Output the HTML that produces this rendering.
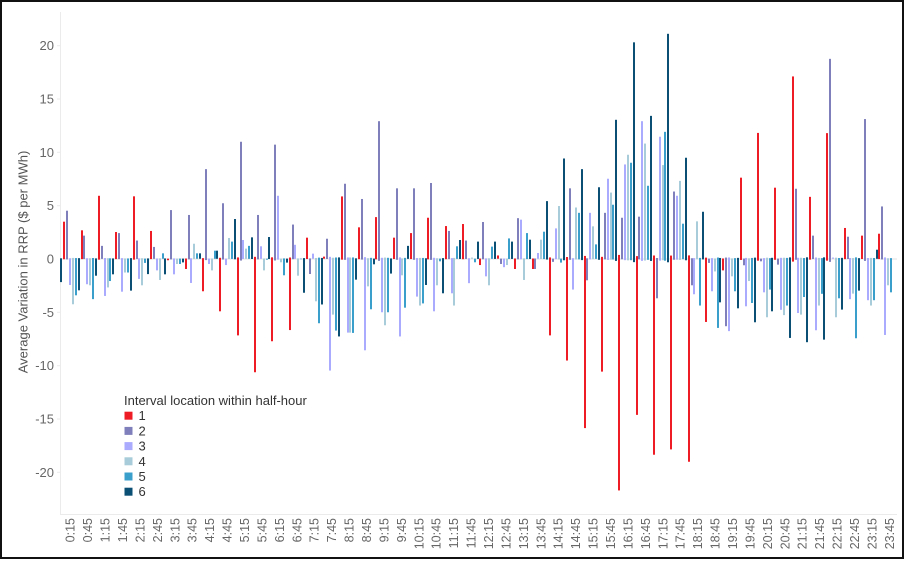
<!DOCTYPE html>
<html>
<head>
<meta charset="utf-8">
<style>
  html, body { margin:0; padding:0; background:#fff; }
  body { width:909px; height:561px; position:relative; overflow:hidden; font-family:"Liberation Sans", Arial, sans-serif; }
  #frame { position:absolute; left:0; top:0; width:904px; height:559px; box-sizing:border-box; border:2.5px solid #111; }
  svg { position:absolute; left:0; top:0; }
  #bars { position:absolute; left:60px; top:248.333px; width:837px; height:10.667px; display:flex; }
  #bars i { flex:none; display:block; width:2.905px; height:10.667px; transform-origin:50% 100%; transform:scaleY(var(--v));
            background:linear-gradient(var(--c),var(--c)) center / 2.2px 100% no-repeat; }
  #bars i:nth-child(6n+1) { --c:#0b4f75; }
  #bars i:nth-child(6n+2) { --c:#ee1c24; }
  #bars i:nth-child(6n+3) { --c:#7f80bb; }
  #bars i:nth-child(6n+4) { --c:#aaaaff; }
  #bars i:nth-child(6n+5) { --c:#a8ccd9; }
  #bars i:nth-child(6n)   { --c:#3b9fcc; }
</style>
</head>
<body>
<svg width="909" height="561" viewBox="0 0 909 561" xmlns="http://www.w3.org/2000/svg">
  <g stroke="#ebebeb" stroke-width="1" fill="none">
    <line x1="60.5" y1="12" x2="60.5" y2="514"/>
    <line x1="60" y1="514.5" x2="897" y2="514.5"/>
    <line x1="60" y1="259" x2="897" y2="259" stroke="#e2e2e2"/>
    <line x1="57" y1="45.7" x2="60" y2="45.7"/>
    <line x1="57" y1="99" x2="60" y2="99"/>
    <line x1="57" y1="152.3" x2="60" y2="152.3"/>
    <line x1="57" y1="205.7" x2="60" y2="205.7"/>
    <line x1="57" y1="312.3" x2="60" y2="312.3"/>
    <line x1="57" y1="365.7" x2="60" y2="365.7"/>
    <line x1="57" y1="419" x2="60" y2="419"/>
    <line x1="57" y1="472.3" x2="60" y2="472.3"/>
  </g>
  <g font-family="Liberation Sans, Arial, sans-serif" font-size="13" fill="#666" text-anchor="end">
    <text x="54" y="50.2">20</text>
    <text x="54" y="103.5">15</text>
    <text x="54" y="156.8">10</text>
    <text x="54" y="210.2">5</text>
    <text x="54" y="263.5">0</text>
    <text x="54" y="316.8">-5</text>
    <text x="54" y="370.2">-10</text>
    <text x="54" y="423.5">-15</text>
    <text x="54" y="476.8">-20</text>
  </g>
  <text transform="translate(27.5,262) rotate(-90)" text-anchor="middle" font-family="Liberation Sans, Arial, sans-serif" font-size="13" fill="#555">Average Variation in RRP ($ per MWh)</text>
  <g font-family="Liberation Sans, Arial, sans-serif" font-size="12.5" fill="#666" text-anchor="end">
    <text transform="translate(74.67,518) rotate(-90)">0:15</text>
    <text transform="translate(92.10,518) rotate(-90)">0:45</text>
    <text transform="translate(109.53,518) rotate(-90)">1:15</text>
    <text transform="translate(126.96,518) rotate(-90)">1:45</text>
    <text transform="translate(144.39,518) rotate(-90)">2:15</text>
    <text transform="translate(161.82,518) rotate(-90)">2:45</text>
    <text transform="translate(179.25,518) rotate(-90)">3:15</text>
    <text transform="translate(196.68,518) rotate(-90)">3:45</text>
    <text transform="translate(214.11,518) rotate(-90)">4:15</text>
    <text transform="translate(231.54,518) rotate(-90)">4:45</text>
    <text transform="translate(248.97,518) rotate(-90)">5:15</text>
    <text transform="translate(266.40,518) rotate(-90)">5:45</text>
    <text transform="translate(283.83,518) rotate(-90)">6:15</text>
    <text transform="translate(301.26,518) rotate(-90)">6:45</text>
    <text transform="translate(318.69,518) rotate(-90)">7:15</text>
    <text transform="translate(336.12,518) rotate(-90)">7:45</text>
    <text transform="translate(353.55,518) rotate(-90)">8:15</text>
    <text transform="translate(370.98,518) rotate(-90)">8:45</text>
    <text transform="translate(388.41,518) rotate(-90)">9:15</text>
    <text transform="translate(405.84,518) rotate(-90)">9:45</text>
    <text transform="translate(423.27,518) rotate(-90)">10:15</text>
    <text transform="translate(440.70,518) rotate(-90)">10:45</text>
    <text transform="translate(458.13,518) rotate(-90)">11:15</text>
    <text transform="translate(475.56,518) rotate(-90)">11:45</text>
    <text transform="translate(492.99,518) rotate(-90)">12:15</text>
    <text transform="translate(510.42,518) rotate(-90)">12:45</text>
    <text transform="translate(527.85,518) rotate(-90)">13:15</text>
    <text transform="translate(545.28,518) rotate(-90)">13:45</text>
    <text transform="translate(562.71,518) rotate(-90)">14:15</text>
    <text transform="translate(580.14,518) rotate(-90)">14:45</text>
    <text transform="translate(597.57,518) rotate(-90)">15:15</text>
    <text transform="translate(615.00,518) rotate(-90)">15:45</text>
    <text transform="translate(632.43,518) rotate(-90)">16:15</text>
    <text transform="translate(649.86,518) rotate(-90)">16:45</text>
    <text transform="translate(667.29,518) rotate(-90)">17:15</text>
    <text transform="translate(684.72,518) rotate(-90)">17:45</text>
    <text transform="translate(702.15,518) rotate(-90)">18:15</text>
    <text transform="translate(719.58,518) rotate(-90)">18:45</text>
    <text transform="translate(737.01,518) rotate(-90)">19:15</text>
    <text transform="translate(754.44,518) rotate(-90)">19:45</text>
    <text transform="translate(771.87,518) rotate(-90)">20:15</text>
    <text transform="translate(789.30,518) rotate(-90)">20:45</text>
    <text transform="translate(806.73,518) rotate(-90)">21:15</text>
    <text transform="translate(824.16,518) rotate(-90)">21:45</text>
    <text transform="translate(841.59,518) rotate(-90)">22:15</text>
    <text transform="translate(859.02,518) rotate(-90)">22:45</text>
    <text transform="translate(876.45,518) rotate(-90)">23:15</text>
    <text transform="translate(893.88,518) rotate(-90)">23:45</text>
  </g>
  <g font-family="Liberation Sans, Arial, sans-serif" font-size="13" fill="#333">
    <text x="124" y="405">Interval location within half-hour</text>
    <rect x="124.5" y="411.7" width="8" height="8" fill="#ee1c24"/>
    <rect x="124.5" y="426.9" width="8" height="8" fill="#7f80bb"/>
    <rect x="124.5" y="442.1" width="8" height="8" fill="#aaaaff"/>
    <rect x="124.5" y="457.3" width="8" height="8" fill="#a8ccd9"/>
    <rect x="124.5" y="472.5" width="8" height="8" fill="#3b9fcc"/>
    <rect x="124.5" y="487.7" width="8" height="8" fill="#0b4f75"/>
    <text x="138.5" y="420.2">1</text>
    <text x="138.5" y="435.4">2</text>
    <text x="138.5" y="450.6">3</text>
    <text x="138.5" y="465.8">4</text>
    <text x="138.5" y="481">5</text>
    <text x="138.5" y="496.2">6</text>
  </g>
</svg>
<div id="bars">
<i style="--v:-2.2"></i><i style="--v:3.47"></i><i style="--v:4.5"></i><i style="--v:-2.47"></i><i style="--v:-4.28"></i><i style="--v:-3.44"></i>
<i style="--v:-2.97"></i><i style="--v:2.66"></i><i style="--v:2.16"></i><i style="--v:-2.4"></i><i style="--v:-2.5"></i><i style="--v:-3.8"></i>
<i style="--v:-1.6"></i><i style="--v:5.9"></i><i style="--v:1.2"></i><i style="--v:-3.5"></i><i style="--v:-2.7"></i><i style="--v:-2.1"></i>
<i style="--v:-1.47"></i><i style="--v:2.5"></i><i style="--v:2.4"></i><i style="--v:-3.1"></i><i style="--v:-1.3"></i><i style="--v:-1.3"></i>
<i style="--v:-3.0"></i><i style="--v:5.85"></i><i style="--v:1.7"></i><i style="--v:-1.9"></i><i style="--v:-2.5"></i><i style="--v:-0.4"></i>
<i style="--v:-1.45"></i><i style="--v:2.6"></i><i style="--v:1.1"></i><i style="--v:-1.1"></i><i style="--v:-2.0"></i><i style="--v:0.5"></i>
<i style="--v:-1.47"></i><i style="--v:-0.15"></i><i style="--v:4.56"></i><i style="--v:-1.47"></i><i style="--v:-0.5"></i><i style="--v:-0.5"></i>
<i style="--v:-0.35"></i><i style="--v:-0.97"></i><i style="--v:4.1"></i><i style="--v:-2.28"></i><i style="--v:1.4"></i><i style="--v:0.5"></i>
<i style="--v:0.5"></i><i style="--v:-3.06"></i><i style="--v:8.4"></i><i style="--v:-0.5"></i><i style="--v:-1.1"></i><i style="--v:0.75"></i>
<i style="--v:0.75"></i><i style="--v:-4.94"></i><i style="--v:5.2"></i><i style="--v:-0.6"></i><i style="--v:1.94"></i><i style="--v:1.6"></i>
<i style="--v:3.72"></i><i style="--v:-7.2"></i><i style="--v:10.97"></i><i style="--v:1.75"></i><i style="--v:0.94"></i><i style="--v:1.2"></i>
<i style="--v:2.0"></i><i style="--v:-10.66"></i><i style="--v:4.1"></i><i style="--v:1.16"></i><i style="--v:-1.1"></i><i style="--v:-0.1"></i>
<i style="--v:2.03"></i><i style="--v:-7.75"></i><i style="--v:10.7"></i><i style="--v:5.9"></i><i style="--v:-0.34"></i><i style="--v:-1.56"></i>
<i style="--v:-0.37"></i><i style="--v:-6.7"></i><i style="--v:3.2"></i><i style="--v:1.3"></i><i style="--v:-1.6"></i><i style="--v:-0.06"></i>
<i style="--v:-3.2"></i><i style="--v:1.97"></i><i style="--v:-1.44"></i><i style="--v:0.47"></i><i style="--v:-4.0"></i><i style="--v:-6.06"></i>
<i style="--v:-4.3"></i><i style="--v:0.19"></i><i style="--v:1.87"></i><i style="--v:-10.5"></i><i style="--v:-5.25"></i><i style="--v:-6.75"></i>
<i style="--v:-7.3"></i><i style="--v:5.84"></i><i style="--v:7.03"></i><i style="--v:-6.94"></i><i style="--v:-6.94"></i><i style="--v:-6.97"></i>
<i style="--v:-1.97"></i><i style="--v:2.94"></i><i style="--v:5.6"></i><i style="--v:-8.6"></i><i style="--v:-2.6"></i><i style="--v:-4.75"></i>
<i style="--v:-0.53"></i><i style="--v:3.9"></i><i style="--v:12.9"></i><i style="--v:-5.03"></i><i style="--v:-6.25"></i><i style="--v:-5.03"></i>
<i style="--v:-1.4"></i><i style="--v:1.97"></i><i style="--v:6.6"></i><i style="--v:-7.3"></i><i style="--v:-1.56"></i><i style="--v:-4.6"></i>
<i style="--v:1.2"></i><i style="--v:2.4"></i><i style="--v:6.6"></i><i style="--v:-3.56"></i><i style="--v:-4.4"></i><i style="--v:-4.2"></i>
<i style="--v:-2.47"></i><i style="--v:3.84"></i><i style="--v:7.1"></i><i style="--v:-4.94"></i><i style="--v:-2.5"></i><i style="--v:-0.25"></i>
<i style="--v:-3.25"></i><i style="--v:3.06"></i><i style="--v:2.6"></i><i style="--v:-3.25"></i><i style="--v:-4.4"></i><i style="--v:1.16"></i>
<i style="--v:1.75"></i><i style="--v:3.25"></i><i style="--v:1.7"></i><i style="--v:-2.3"></i><i style="--v:0.1"></i><i style="--v:-0.34"></i>
<i style="--v:1.6"></i><i style="--v:-0.6"></i><i style="--v:3.44"></i><i style="--v:-1.66"></i><i style="--v:-2.5"></i><i style="--v:1.13"></i>
<i style="--v:1.6"></i><i style="--v:0.3"></i><i style="--v:-0.5"></i><i style="--v:-0.8"></i><i style="--v:-0.6"></i><i style="--v:1.9"></i>
<i style="--v:1.6"></i><i style="--v:-0.97"></i><i style="--v:3.8"></i><i style="--v:3.66"></i><i style="--v:-2.0"></i><i style="--v:2.4"></i>
<i style="--v:1.78"></i><i style="--v:-0.97"></i><i style="--v:-0.97"></i><i style="--v:0.53"></i><i style="--v:1.78"></i><i style="--v:2.53"></i>
<i style="--v:5.4"></i><i style="--v:-7.2"></i><i style="--v:-0.3"></i><i style="--v:2.84"></i><i style="--v:4.94"></i><i style="--v:-0.37"></i>
<i style="--v:9.4"></i><i style="--v:-9.56"></i><i style="--v:6.6"></i><i style="--v:-2.9"></i><i style="--v:4.8"></i><i style="--v:4.3"></i>
<i style="--v:8.4"></i><i style="--v:-15.9"></i><i style="--v:-2.03"></i><i style="--v:4.3"></i><i style="--v:3.03"></i><i style="--v:1.34"></i>
<i style="--v:6.7"></i><i style="--v:-10.6"></i><i style="--v:4.3"></i><i style="--v:7.5"></i><i style="--v:6.2"></i><i style="--v:5.06"></i>
<i style="--v:13.03"></i><i style="--v:-21.75"></i><i style="--v:3.84"></i><i style="--v:8.84"></i><i style="--v:9.75"></i><i style="--v:9.0"></i>
<i style="--v:20.3"></i><i style="--v:-14.66"></i><i style="--v:3.94"></i><i style="--v:12.9"></i><i style="--v:10.8"></i><i style="--v:6.84"></i>
<i style="--v:13.4"></i><i style="--v:-18.4"></i><i style="--v:-3.72"></i><i style="--v:11.44"></i><i style="--v:8.78"></i><i style="--v:11.9"></i>
<i style="--v:21.1"></i><i style="--v:-17.9"></i><i style="--v:6.3"></i><i style="--v:5.9"></i><i style="--v:7.3"></i><i style="--v:3.28"></i>
<i style="--v:9.47"></i><i style="--v:-19.06"></i><i style="--v:-2.5"></i><i style="--v:-3.34"></i><i style="--v:3.5"></i><i style="--v:-4.4"></i>
<i style="--v:4.4"></i><i style="--v:-5.94"></i><i style="--v:-0.4"></i><i style="--v:-3.06"></i><i style="--v:-1.2"></i><i style="--v:-6.5"></i>
<i style="--v:-4.1"></i><i style="--v:-1.1"></i><i style="--v:-6.34"></i><i style="--v:-6.8"></i><i style="--v:-1.66"></i><i style="--v:-3.06"></i>
<i style="--v:-4.66"></i><i style="--v:7.6"></i><i style="--v:-0.62"></i><i style="--v:-4.47"></i><i style="--v:-2.1"></i><i style="--v:-4.16"></i>
<i style="--v:-5.97"></i><i style="--v:11.8"></i><i style="--v:-0.25"></i><i style="--v:-3.16"></i><i style="--v:-5.5"></i><i style="--v:-2.9"></i>
<i style="--v:-4.94"></i><i style="--v:6.66"></i><i style="--v:-0.56"></i><i style="--v:-4.8"></i><i style="--v:-5.3"></i><i style="--v:-4.4"></i>
<i style="--v:-7.44"></i><i style="--v:17.1"></i><i style="--v:6.56"></i><i style="--v:-5.1"></i><i style="--v:-5.25"></i><i style="--v:-3.6"></i>
<i style="--v:-7.84"></i><i style="--v:5.8"></i><i style="--v:2.16"></i><i style="--v:-6.72"></i><i style="--v:-4.4"></i><i style="--v:-3.3"></i>
<i style="--v:-7.6"></i><i style="--v:11.78"></i><i style="--v:18.75"></i><i style="--v:0.1"></i><i style="--v:-5.5"></i><i style="--v:-3.72"></i>
<i style="--v:-4.78"></i><i style="--v:2.88"></i><i style="--v:2.06"></i><i style="--v:-3.8"></i><i style="--v:-3.28"></i><i style="--v:-7.47"></i>
<i style="--v:-3.0"></i><i style="--v:2.16"></i><i style="--v:13.1"></i><i style="--v:-3.9"></i><i style="--v:-4.4"></i><i style="--v:-3.9"></i>
<i style="--v:0.84"></i><i style="--v:2.34"></i><i style="--v:4.9"></i><i style="--v:-7.16"></i><i style="--v:-2.5"></i><i style="--v:-3.16"></i>
</div>
<div id="frame"></div>
</body>
</html>
